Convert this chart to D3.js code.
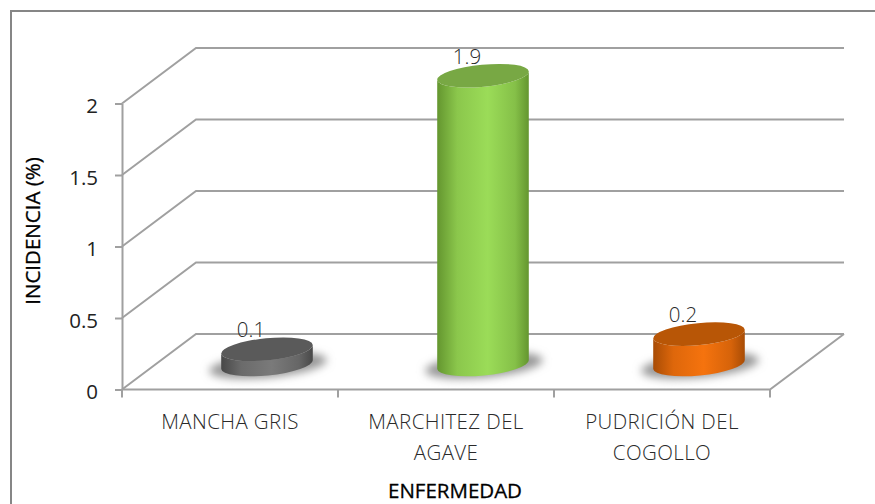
<!DOCTYPE html>
<html>
<head>
<meta charset="utf-8">
<script src="https://cdnjs.cloudflare.com/ajax/libs/d3/7.8.5/d3.min.js"></script>
<style>
  html, body { margin: 0; padding: 0; background: #fff; overflow: hidden; }
  text { font-family: "Open Sans", sans-serif; }
</style>
</head>
<body>
<svg id="chart"></svg>
<script>
var categories = ["MANCHA GRIS", "MARCHITEZ DEL AGAVE", "PUDRICIÓN DEL COGOLLO"];
var categoryLines = [["MANCHA GRIS"], ["MARCHITEZ DEL", "AGAVE"], ["PUDRICIÓN DEL", "COGOLLO"]];
var values = [0.1, 1.9, 0.2];
var valueTicks = [0, 0.5, 1, 1.5, 2];
var sideColors = ["#7a7a7a", "#9bdc58", "#f5730e"];
var darkColors = ["#484848", "#64962f", "#a84c05"];
var topColors = ["#5a5a5a", "#78a844", "#b85606"];

var width = 875, height = 504;
var depthX = 74, depthY = -55.5;   // offset of the back wall
var barShift = 37;                 // bars stand halfway back on the floor

var svg = d3.select("#chart").attr("width", width).attr("height", height);

// Chart frame, runs off the right and bottom of the picture
svg.append("rect")
  .attr("x", 11).attr("y", 11)
  .attr("width", 1000).attr("height", 1000)
  .attr("fill", "#fff").attr("stroke", "#868686").attr("stroke-width", 2);

var x = d3.scaleBand().domain(categories).range([122, 770]);
var y = d3.scaleLinear().domain([0, 2]).range([389.5, 103.5]);
// Bars have their own scale, the floor is seen at an angle
var barY = d3.scaleLinear().domain([0, 2]).range([364.5, 60.5]);

function barX(i) {
  return x(categories[i]) + x.bandwidth() / 2 + barShift;
}

var defs = svg.append("defs");
defs.append("filter").attr("id", "blur")
  .attr("x", "-30%").attr("y", "-100%").attr("width", "160%").attr("height", "300%")
  .append("feGaussianBlur").attr("stdDeviation", 4.5);

categories.forEach(function (c, i) {
  var g = defs.append("linearGradient").attr("id", "side" + i);
  g.append("stop").attr("offset", "0%").attr("stop-color", darkColors[i]);
  g.append("stop").attr("offset", "22%").attr("stop-color", d3.interpolateRgb(darkColors[i], sideColors[i])(0.7));
  g.append("stop").attr("offset", "55%").attr("stop-color", sideColors[i]);
  g.append("stop").attr("offset", "85%").attr("stop-color", d3.interpolateRgb(darkColors[i], sideColors[i])(0.6));
  g.append("stop").attr("offset", "100%").attr("stop-color", darkColors[i]);
});

// Walls and floor
var lineColor = "#a0a0a0";
var walls = svg.append("g").attr("fill", "none").attr("stroke", lineColor).attr("stroke-width", 2);
valueTicks.forEach(function (v) {
  walls.append("path").attr("d", d3.line()([
    [x.range()[0], y(v)],
    [x.range()[0] + depthX, y(v) + depthY],
    [x.range()[1] + depthX, y(v) + depthY]
  ]));
});
walls.append("path").attr("d", d3.line()([
  [x.range()[0], y(0)],
  [x.range()[1], y(0)],
  [x.range()[1] + depthX, y(0) + depthY]
]));

// Value axis
var yAxis = svg.append("g")
  .attr("transform", "translate(122,0)")
  .call(d3.axisLeft(y).tickValues(valueTicks).tickFormat(d3.format("")).tickSize(7).tickSizeOuter(0));
yAxis.selectAll("line, path").attr("stroke", lineColor).attr("stroke-width", 2);
yAxis.selectAll("text")
  .attr("x", -24).attr("dy", "0.44em")
  .attr("font-size", 20.5).attr("fill", "#222");

// Category axis
var xAxis = svg.append("g")
  .attr("transform", "translate(0,389.5)")
  .call(d3.axisBottom(x).tickSize(0));
xAxis.select("path").remove();
var tickEdges = [x.range()[0]].concat(categories.map(function (c) { return x(c) + x.bandwidth(); }));
xAxis.selectAll(".edge").data(tickEdges).enter().append("line")
  .attr("class", "edge")
  .attr("x1", function (d) { return d; }).attr("x2", function (d) { return d; })
  .attr("y1", 0).attr("y2", 8)
  .attr("stroke", lineColor).attr("stroke-width", 2);
xAxis.selectAll(".tick text").each(function (d, i) {
  var t = d3.select(this).text(null).attr("y", 0).attr("dy", null)
    .attr("font-size", 20.5).attr("font-weight", 300).attr("letter-spacing", 0.4).attr("fill", "#2a2a2a");
  categoryLines[i].forEach(function (l, j) {
    t.append("tspan").attr("x", 0).attr("y", 39 + j * 31).text(l);
  });
});

// Cylinders
var rx = 46, ry = 11, tilt = -5.5;
var dx = rx * Math.cos(tilt * Math.PI / 180), dy = rx * Math.sin(tilt * Math.PI / 180);
var bars = svg.selectAll(".bar").data(values).enter().append("g").attr("class", "bar");

bars.append("ellipse")
  .attr("cx", function (d, i) { return barX(i) + 1; })
  .attr("cy", barY(0) + 1)
  .attr("rx", 59).attr("ry", 12)
  .attr("transform", function (d, i) {
    return "rotate(" + tilt + " " + (barX(i) + 1) + " " + (barY(0) + 1) + ")";
  })
  .attr("fill", "#969696").attr("filter", "url(#blur)");

bars.append("path")
  .attr("d", function (d, i) {
    var cx = barX(i);
    var b = barY(0), t = barY(d);
    return "M" + (cx - dx) + "," + (t - dy) +
      "L" + (cx - dx) + "," + (b - dy) +
      "A" + rx + "," + ry + " " + tilt + " 0 0 " + (cx + dx) + "," + (b + dy) +
      "L" + (cx + dx) + "," + (t + dy) +
      "A" + rx + "," + ry + " " + tilt + " 0 1 " + (cx - dx) + "," + (t - dy) + "Z";
  })
  .attr("fill", function (d, i) { return "url(#side" + i + ")"; });

bars.append("ellipse")
  .attr("cx", function (d, i) { return barX(i); })
  .attr("cy", function (d) { return barY(d); })
  .attr("rx", rx).attr("ry", ry)
  .attr("transform", function (d, i) {
    return "rotate(" + tilt + " " + barX(i) + " " + barY(d) + ")";
  })
  .attr("fill", function (d, i) { return topColors[i]; });

bars.append("text")
  .attr("x", function (d, i) { return barX(i) - 16; })
  .attr("y", function (d) { return barY(d) - 12; })
  .attr("text-anchor", "middle")
  .attr("font-size", 20.5).attr("font-weight", 300).attr("fill", "#2a2a2a")
  .text(function (d) { return d; });

// Axis titles
svg.append("text")
  .attr("x", 455).attr("y", 498)
  .attr("text-anchor", "middle")
  .attr("font-size", 20.5).attr("fill", "#000").attr("stroke", "#000").attr("stroke-width", 0.3)
  .text("ENFERMEDAD");

svg.append("text")
  .attr("transform", "translate(40,231) rotate(-90)")
  .attr("text-anchor", "middle")
  .attr("font-size", 20.5).attr("fill", "#000").attr("stroke", "#000").attr("stroke-width", 0.3)
  .text("INCIDENCIA (%)");
</script>
</body>
</html>
